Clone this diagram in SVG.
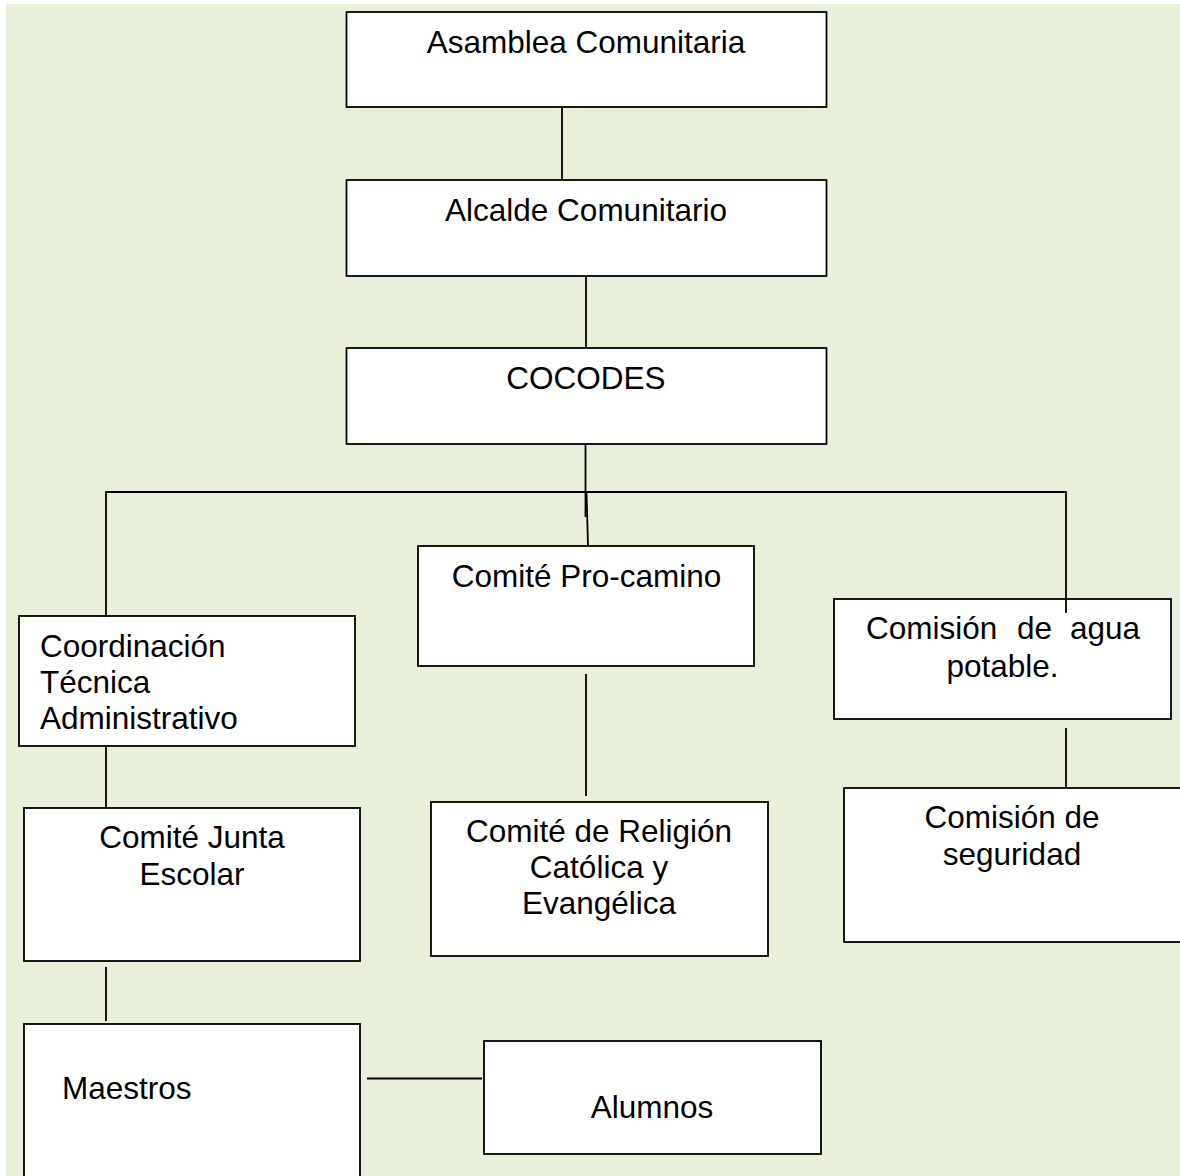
<svg xmlns="http://www.w3.org/2000/svg" width="1180" height="1176" viewBox="0 0 1180 1176">
<style>
.box{fill:#fff;stroke:#000;stroke-width:1.8}
.ln{stroke:#000;stroke-width:1.8;fill:none}
text{font-family:"Liberation Sans",Arial,sans-serif;font-size:31.5px;fill:#000}
.c{text-anchor:middle}
.e{text-anchor:end}
</style>
<rect x="6" y="4" width="1174" height="1172" fill="#E8F0DC"/>
<g id="asamblea">
<rect class="box" x="346.5" y="12" width="480" height="95"/>
<text class="c" x="586" y="53">Asamblea Comunitaria</text>
</g>
<g id="alcalde">
<rect class="box" x="346.5" y="180" width="480" height="96"/>
<text class="c" x="586" y="221">Alcalde Comunitario</text>
</g>
<g id="cocodes">
<rect class="box" x="346.5" y="348" width="480" height="96"/>
<text class="c" x="586" y="389">COCODES</text>
</g>
<g id="procamino">
<rect class="box" x="418" y="546" width="336" height="120"/>
<text class="c" x="586.5" y="587">Comité Pro-camino</text>
</g>
<g id="religion">
<rect class="box" x="431" y="802" width="337" height="154"/>
<text class="c" x="599" y="842">Comité de Religión</text>
<text class="c" x="599" y="878">Católica y</text>
<text class="c" x="599" y="914">Evangélica</text>
</g>
<g id="coordinacion">
<rect class="box" x="19" y="616" width="336" height="130"/>
<text x="40" y="657">Coordinación</text>
<text x="40" y="693">Técnica</text>
<text x="40" y="729">Administrativo</text>
</g>
<g id="junta">
<rect class="box" x="24" y="808" width="336" height="153"/>
<text class="c" x="192" y="848">Comité Junta</text>
<text class="c" x="192" y="885">Escolar</text>
</g>
<g id="maestros">
<rect class="box" x="24" y="1024" width="336" height="170"/>
<text x="62" y="1099">Maestros</text>
</g>
<g id="alumnos">
<rect class="box" x="484" y="1041" width="337" height="113"/>
<text class="c" x="652" y="1118">Alumnos</text>
</g>
<g id="agua">
<rect class="box" x="834" y="599" width="337" height="120"/>
<text x="866" y="639">Comisión</text>
<text x="1017" y="639">de</text>
<text class="e" x="1140" y="639">agua</text>
<text class="c" x="1002.5" y="677">potable.</text>
</g>
<g id="seguridad">
<rect class="box" x="844" y="788" width="340" height="154"/>
<text class="c" x="1012" y="828">Comisión de</text>
<text class="c" x="1012" y="865">seguridad</text>
</g>
<g id="connectors">
<line class="ln" x1="562" y1="108" x2="562" y2="180"/>
<line class="ln" x1="586" y1="276" x2="586" y2="348"/>
<line class="ln" x1="585.5" y1="444" x2="585.5" y2="517"/>
<line class="ln" x1="586.5" y1="492" x2="588" y2="546"/>
<polyline class="ln" points="106,617 106,492 1066,492 1066,613"/>
<line class="ln" x1="106" y1="746" x2="106" y2="808"/>
<line class="ln" x1="106" y1="967" x2="106" y2="1021"/>
<line class="ln" x1="367" y1="1078.5" x2="482" y2="1078.5"/>
<line class="ln" x1="586" y1="674" x2="586" y2="796"/>
<line class="ln" x1="1066" y1="728" x2="1066" y2="788"/>
</g>
</svg>
